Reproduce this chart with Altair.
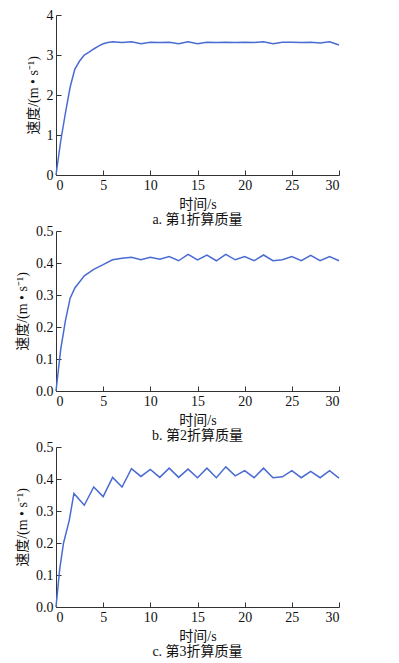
import altair as alt
import pandas as pd

# Panel a: 第1折算质量
t1 = [0, 0.5, 1, 1.5, 2, 2.5, 3, 3.5, 4, 4.5, 5, 5.5, 6, 7, 8, 9, 10, 11, 12, 13, 14, 15,
      16, 17, 18, 19, 20, 21, 22, 23, 24, 25, 26, 27, 28, 29, 30]
v1 = [0, 0.85, 1.55, 2.2, 2.65, 2.85, 3.0, 3.07, 3.15, 3.22, 3.28, 3.31, 3.33, 3.31, 3.33,
      3.28, 3.32, 3.31, 3.32, 3.28, 3.33, 3.28, 3.32, 3.31, 3.32, 3.31, 3.32, 3.31, 3.33,
      3.28, 3.32, 3.32, 3.31, 3.32, 3.30, 3.33, 3.25]

# Panel b: 第2折算质量
t2 = [0, 0.5, 1, 1.5, 2, 3, 4, 5, 6, 7, 8, 9, 10, 11, 12, 13, 14, 15, 16, 17, 18, 19, 20,
      21, 22, 23, 24, 25, 26, 27, 28, 29, 30]
v2 = [0, 0.13, 0.22, 0.29, 0.322, 0.36, 0.38, 0.395, 0.41, 0.415, 0.418, 0.41, 0.418,
      0.412, 0.42, 0.407, 0.427, 0.41, 0.425, 0.407, 0.427, 0.41, 0.42, 0.407, 0.425,
      0.407, 0.41, 0.42, 0.407, 0.424, 0.407, 0.42, 0.407]

# Panel c: 第3折算质量
t3 = [0, 0.4, 0.8, 1.4, 1.9, 3, 4, 5, 6, 7, 8, 9, 10, 11, 12, 13, 14, 15, 16, 17, 18, 19,
      20, 21, 22, 23, 24, 25, 26, 27, 28, 29, 30]
v3 = [0, 0.12, 0.2, 0.27, 0.355, 0.318, 0.375, 0.345, 0.405, 0.375, 0.432, 0.408, 0.43,
      0.405, 0.434, 0.405, 0.431, 0.404, 0.434, 0.404, 0.438, 0.41, 0.426, 0.404, 0.434,
      0.404, 0.407, 0.426, 0.404, 0.424, 0.404, 0.426, 0.403]

x_ticks = [0, 5, 10, 15, 20, 25, 30]
y_ticks_a = [0, 1, 2, 3, 4]
y_ticks_bc = [0.0, 0.1, 0.2, 0.3, 0.4, 0.5]

captions = ["a. 第1折算质量", "b. 第2折算质量", "c. 第3折算质量"]
x_title = "时间/s"
y_title = "速度/(m • s⁻¹)"

FONT = "Liberation Serif, Noto Sans CJK SC"
LINE = "#4a6bd2"


def panel(t, v, ymax, yticks, fmt, caption):
    df = pd.DataFrame({"t": t, "v": v})
    return alt.Chart(df).mark_line(color=LINE, strokeWidth=1.5).encode(
        x=alt.X("t:Q", scale=alt.Scale(domain=[0, 30], nice=False),
                axis=alt.Axis(values=x_ticks, title=x_title, format="d")),
        y=alt.Y("v:Q", scale=alt.Scale(domain=[0, ymax], nice=False),
                axis=alt.Axis(values=yticks, title=y_title, format=fmt)),
    ).properties(
        width=283, height=160,
        title=alt.TitleParams(caption, orient="bottom", font=FONT, fontSize=14,
                              fontWeight="normal", color="#111", offset=2),
    )


pa = panel(t1, v1, 4, y_ticks_a, "d", captions[0])
pb = panel(t2, v2, 0.5, y_ticks_bc, ".1f", captions[1])
pc = panel(t3, v3, 0.5, y_ticks_bc, ".1f", captions[2])

chart = alt.ConcatChart(concat=[pa, pb, pc], columns=1, spacing=-3, align="none").properties(
    padding={"left": 7, "top": 0, "right": 5, "bottom": 0}
).configure_view(strokeWidth=0).configure_axis(
    grid=False,
    domainColor="#333",
    tickColor="#333",
    tickSize={"expr": "-5"},
    labelFont=FONT,
    labelFontSize=14,
    labelColor="#111",
    labelPadding=8,
    titleFont=FONT,
    titleFontSize=14,
    titleFontWeight="normal",
    titleColor="#111",
).configure_axisX(titlePadding=5).configure_axisY(titlePadding=6)

chart.save("out.html", embed_options={"renderer": "svg", "actions": False})
